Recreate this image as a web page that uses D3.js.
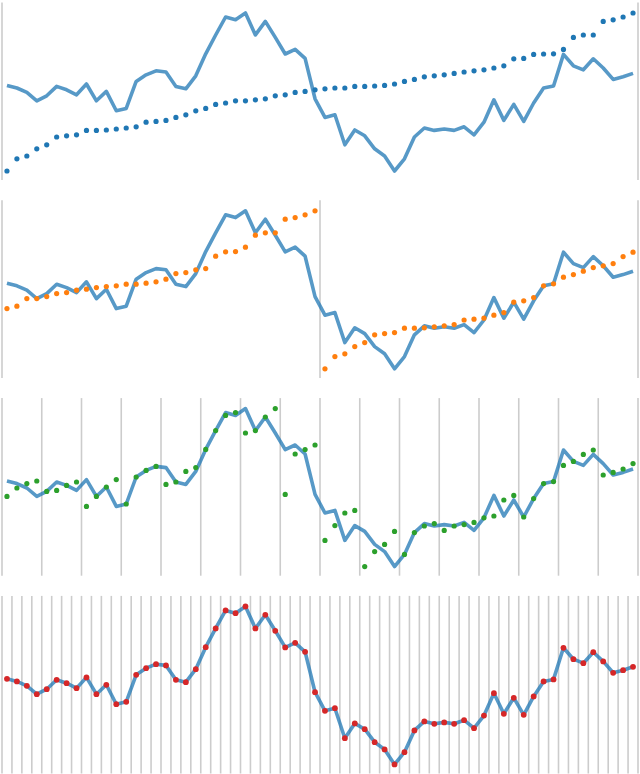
<!DOCTYPE html>
<html>
<head>
<meta charset="utf-8">
<script src="https://cdn.jsdelivr.net/npm/d3@7"></script>
<style>
  body { margin: 0; background: #fff; }
</style>
</head>
<body>
<div id="chart"></div>
<script>

// series (one value per step)
var values = [
  47.7, 46.4, 44.2, 40.0, 42.5, 47.2, 45.5, 43.0,
  48.4, 40.0, 44.7, 35.0, 36.2, 49.7, 53.0, 55.0,
  54.4, 47.2, 46.0, 52.5, 63.5, 72.9, 81.9, 80.5,
  83.9, 72.9, 79.7, 71.7, 63.4, 65.7, 61.2, 41.0,
  31.7, 33.0, 18.0, 25.4, 22.5, 16.0, 12.4, 4.9,
  11.0, 21.9, 26.4, 25.2, 25.9, 25.2, 27.0, 23.0,
  29.3, 40.5, 30.2, 38.2, 29.7, 38.9, 46.4, 47.4,
  63.2, 57.5, 55.5, 61.0, 56.4, 50.7, 52.0, 53.7
];

// how many steps are sorted together in each row
var groupSizes = [64, 32, 4, 1];
var dotColors = ["#1f77b4", "#ff7f0e", "#2ca02c", "#d62728"];

var svgWidth = 640;
var svgHeight = 774;
var panelHeight = 180.6;
var panelStep = 197.8;

var svg = d3.select("#chart")
  .append("svg")
  .attr("width", svgWidth)
  .attr("height", svgHeight);

var xBand = d3.scaleBand()
  .domain(d3.range(values.length))
  .range([2, 638]);

var yScale = d3.scaleLinear()
  .domain(d3.extent(values))
  .range([171, 13]);

var line = d3.line()
  .x((d, i) => xBand(i) + xBand.bandwidth() / 2)
  .y(d => yScale(d));

groupSizes.forEach(function(size, row) {

  var panel = svg.append("g")
    .attr("transform", `translate(0, ${row * panelStep})`);

  // values sorted inside each group of steps
  var sorted = [];
  for (var start = 0; start < values.length; start += size) {
    var chunk = values.slice(start, start + size).sort(d3.ascending);
    sorted = sorted.concat(chunk);
  }

  // group boundaries
  var bounds = d3.range(0, values.length + 1, size);
  panel.selectAll("line.grid")
    .data(bounds)
    .enter()
    .append("line")
    .attr("class", "grid")
    .attr("x1", d => d < values.length ? xBand(d) : xBand.range()[1])
    .attr("x2", d => d < values.length ? xBand(d) : xBand.range()[1])
    .attr("y1", 2.5)
    .attr("y2", panelHeight - 0.5)
    .attr("stroke", "#ccc")
    .attr("stroke-width", 1.6);

  panel.append("path")
    .datum(values)
    .attr("d", line)
    .attr("fill", "none")
    .attr("stroke", "#1f77b4")
    .attr("stroke-opacity", 0.75)
    .attr("stroke-width", 3.6)
    .attr("stroke-linejoin", "round");

  panel.selectAll("circle")
    .data(sorted)
    .enter()
    .append("circle")
    .attr("cx", (d, i) => xBand(i) + xBand.bandwidth() / 2)
    .attr("cy", d => yScale(d))
    .attr("r", row === 3 ? 2.9 : 2.6)
    .attr("fill", dotColors[row]);
});

</script>
</body>
</html>
